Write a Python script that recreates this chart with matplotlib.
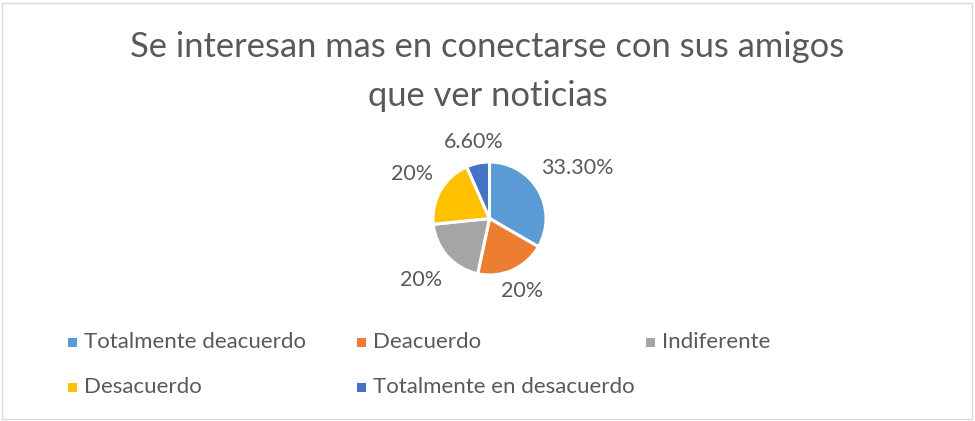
import numpy as np
import matplotlib.pyplot as plt
from matplotlib.patches import Rectangle

categorias = ["Totalmente deacuerdo", "Deacuerdo", "Indiferente", "Desacuerdo", "Totalmente en desacuerdo"]
valores = [33.3, 20, 20, 20, 6.6]
etiquetas = ["33.30%", "20%", "20%", "20%", "6.60%"]
colores = ["#5B9BD5", "#ED7D31", "#A5A5A5", "#FFC000", "#4472C4"]

gris = "#595959"
plt.rcParams['font.family'] = ['Lato', 'DejaVu Sans']

fig = plt.figure(figsize=(9.75, 4.21), dpi=100)
W, H = 975, 421

# marco
fig.patches.append(Rectangle((2 / W, 2 / H), 970 / W, 416 / H, transform=fig.transFigure,
                             fill=False, edgecolor="#D9D9D9", linewidth=1))

fig.text(0.5, 1 - 47 / H, "Se interesan mas en conectarse con sus amigos", ha="center", va="center",
         fontsize=24.8, color=gris)
fig.text(0.5, 1 - 96 / H, "que ver noticias", ha="center", va="center", fontsize=24.8, color=gris)

# pastel
cx, cy, r = 489.5, 218.5, 56.5
lado = 260
ax = fig.add_axes([(cx - lado / 2) / W, 1 - (cy + lado / 2) / H, lado / W, lado / H])
wedges, _ = ax.pie(valores, colors=colores, startangle=90, counterclock=False, radius=1,
                   wedgeprops=dict(edgecolor="white", linewidth=2.2))
# distancia de cada etiqueta (en radios), como las coloca Excel
dist = [1.79, 1.41, 1.62, 1.58, 1.38]
for w, txt, d in zip(wedges, etiquetas, dist):
    ang = np.deg2rad((w.theta1 + w.theta2) / 2)
    ax.text(d * np.cos(ang), d * np.sin(ang), txt, ha="center", va="center",
            fontsize=15.5, color=gris)
lim = lado / 2 / r
ax.set_xlim(-lim, lim)
ax.set_ylim(-lim, lim)
ax.set_aspect("equal")
ax.axis("off")

# leyenda
pos = [(72, 342), (361, 342), (650, 342), (72, 387), (361, 387)]
for (x, y), nombre, c in zip(pos, categorias, colores):
    fig.patches.append(Rectangle(((x - 4.5) / W, 1 - (y + 4.5) / H), 9 / W, 9 / H,
                                 transform=fig.transFigure, facecolor=c, edgecolor="none"))
    fig.text((x + 12) / W, 1 - y / H, nombre, ha="left", va="center", fontsize=16, color=gris)

fig.savefig("out.png", dpi=100)
